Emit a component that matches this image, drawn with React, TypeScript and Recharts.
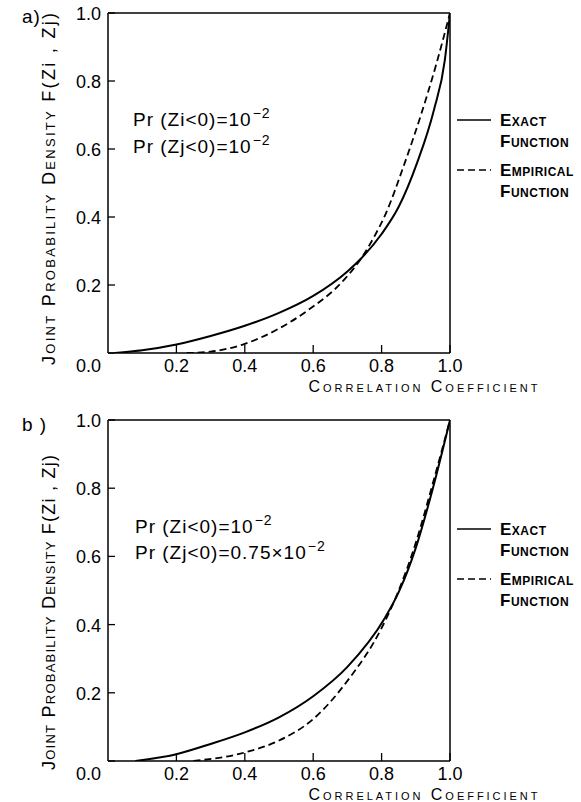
import React from "react";
import { LineChart, Line, XAxis, YAxis, Legend } from "recharts";

// Panel a) — exact and empirical joint density vs correlation coefficient
const exactA_r = [0.02, 0.1, 0.2, 0.3, 0.4, 0.5, 0.6, 0.7, 0.74, 0.8, 0.85, 0.904, 0.953, 0.985, 1.0];
const exactA_f = [0, 0.008, 0.025, 0.05, 0.08, 0.118, 0.168, 0.24, 0.278, 0.35, 0.43, 0.56, 0.715, 0.862, 1.0];
const empA_r = [0.23, 0.3, 0.4, 0.5, 0.585, 0.69, 0.74, 0.78, 0.81, 0.868, 0.915, 0.96, 1.0];
const empA_f = [0, 0.004, 0.027, 0.072, 0.126, 0.215, 0.278, 0.345, 0.405, 0.56, 0.7, 0.85, 1.0];

// Panel b)
const exactB_r = [0.08, 0.2, 0.3, 0.4, 0.5, 0.6, 0.7, 0.81, 0.85, 0.9, 0.95, 1.0];
const exactB_f = [0, 0.02, 0.05, 0.084, 0.128, 0.19, 0.276, 0.42, 0.495, 0.625, 0.8, 1.0];
const empB_r = [0.25, 0.4, 0.5, 0.6, 0.7, 0.8, 0.85, 0.9, 0.95, 1.0];
const empB_f = [0, 0.025, 0.06, 0.123, 0.235, 0.39, 0.5, 0.64, 0.815, 1.0];

const xTicks = [0.2, 0.4, 0.6, 0.8, 1.0];
const yTicks = [0, 0.2, 0.4, 0.6, 0.8, 1.0];

const seriesNames = ["Exact Function", "Empirical Function"];
const dashes = ["", "7 4"];

const FONT = "'Liberation Sans', Arial, sans-serif";

const zip = (r: number[], f: number[]) => r.map((v, i) => ({ r: v, f: f[i] }));

const XTick = (props: any) => {
  const { x, y, payload } = props;
  return (
    <g>
      <line x1={x} y1={y} x2={x} y2={y - 8} stroke="#000" strokeWidth={1.3} />
      <text x={x} y={y + 13} textAnchor="middle" dominantBaseline="central" fontSize={18} fontFamily={FONT} fill="#000">
        {Number(payload.value).toFixed(1)}
      </text>
    </g>
  );
};

const YTick = (props: any) => {
  const { x, y, payload } = props;
  const v = Number(payload.value);
  return (
    <g>
      <line x1={x} y1={y} x2={x + 7} y2={y} stroke="#000" strokeWidth={1.3} />
      <text x={x - 7} y={v === 0 ? y + 13 : y + 1} textAnchor="end" dominantBaseline="central" fontSize={18} fontFamily={FONT} fill="#000">
        {v.toFixed(1)}
      </text>
    </g>
  );
};

const renderLegend = () => (
  <div style={{ fontFamily: FONT }}>
    {seriesNames.map((name, i) => {
      const [w1, w2] = name.split(" ");
      return (
        <div key={name} style={{ display: "flex", alignItems: "flex-start", marginBottom: 8 }}>
          <svg width={36} height={21}>
            <line x1={1} y1={10} x2={35} y2={10} stroke="#000" strokeWidth={1.6} strokeDasharray={dashes[i] || undefined} />
          </svg>
          <div style={{ marginLeft: 8, fontSize: 17, fontWeight: "bold", fontVariant: "small-caps", lineHeight: "21px", letterSpacing: 0.5 }}>
            <div>{w1}</div>
            <div>{w2}</div>
          </div>
        </div>
      );
    })}
  </div>
);

type PanelProps = {
  top: number;
  height: number;
  margin: { top: number; right: number; bottom: number; left: number };
  exact: { r: number; f: number }[];
  empirical: { r: number; f: number }[];
  titleShift: number;
  titleLength: number;
  legendTop: number;
};

const Panel = ({ top, height, margin, exact, empirical, titleShift, titleLength, legendTop }: PanelProps) => {
  const axisLine = { stroke: "#000", strokeWidth: 1.5 };
  return (
    <div style={{ position: "absolute", left: 0, top }}>
      <LineChart width={581} height={height} margin={margin}>
        <XAxis
          dataKey="r"
          type="number"
          domain={[0, 1]}
          ticks={xTicks}
          height={30}
          tickSize={0}
          tickMargin={0}
          tickLine={false}
          axisLine={axisLine}
          tick={XTick}
          allowDataOverflow
          label={{
            content: (p: any) => {
              const vb = p.viewBox || {};
              return (
                <text
                  x={vb.x + vb.width - 27}
                  y={vb.y + 33}
                  textAnchor="middle"
                  dominantBaseline="central"
                  fontSize={16}
                  fontFamily={FONT}
                  style={{ fontVariant: "small-caps" }}
                  textLength={229}
                  lengthAdjust="spacing"
                  fill="#000"
                >
                  Correlation Coefficient
                </text>
              );
            },
          }}
        />
        <XAxis xAxisId="top" orientation="top" type="number" domain={[0, 1]} height={10} tick={false} tickLine={false} axisLine={axisLine} />
        <YAxis
          type="number"
          domain={[0, 1]}
          ticks={yTicks}
          width={40}
          tickSize={0}
          tickMargin={0}
          tickLine={false}
          axisLine={axisLine}
          tick={YTick}
          allowDataOverflow
          label={{
            content: (p: any) => {
              const vb = p.viewBox || {};
              const cx = 49;
              const cy = vb.y + vb.height / 2 + titleShift;
              return (
                <text
                  x={cx}
                  y={cy}
                  transform={`rotate(-90, ${cx}, ${cy})`}
                  textAnchor="middle"
                  dominantBaseline="central"
                  fontSize={18}
                  fontFamily={FONT}
                  textLength={titleLength}
                  lengthAdjust="spacing"
                  fill="#000"
                >
                  <tspan style={{ fontVariant: "small-caps" }}>Joint Probability Density</tspan>
                  <tspan> F(Zi , Zj)</tspan>
                </text>
              );
            },
          }}
        />
        <YAxis yAxisId="right" orientation="right" type="number" domain={[0, 1]} width={10} tick={false} tickLine={false} axisLine={axisLine} />
        <Legend
          layout="vertical"
          align="center"
          verticalAlign="middle"
          content={renderLegend}
          wrapperStyle={{ left: 456, top: legendTop, width: 125, height: "auto" }}
        />
        <Line
          data={exact}
          dataKey="f"
          type="monotone"
          name={seriesNames[0]}
          stroke="#000"
          strokeWidth={2}
          dot={false}
          isAnimationActive={false}
        />
        <Line
          data={empirical}
          dataKey="f"
          type="monotone"
          name={seriesNames[1]}
          stroke="#000"
          strokeWidth={1.8}
          strokeDasharray={dashes[1]}
          dot={false}
          isAnimationActive={false}
        />
      </LineChart>
    </div>
  );
};

const noteStyle: React.CSSProperties = {
  position: "absolute",
  fontFamily: FONT,
  fontSize: 19,
  lineHeight: "22px",
  letterSpacing: 1,
  whiteSpace: "nowrap",
  color: "#000",
};

const Sup = ({ children }: { children: React.ReactNode }) => (
  <span style={{ fontSize: 14, position: "relative", top: -8, marginLeft: 1 }}>{children}</span>
);

export default function App() {
  return (
    <div style={{ position: "absolute", left: 0, top: 0, width: 581, height: 802, background: "#fff" }}>
      <Panel
        top={0}
        height={400}
        margin={{ top: 3, right: 121, bottom: 17, left: 68 }}
        exact={zip(exactA_r, exactA_f)}
        empirical={zip(empA_r, empA_f)}
        titleShift={6}
        titleLength={352}
        legendTop={110}
      />
      <Panel
        top={400}
        height={402}
        margin={{ top: 10, right: 121, bottom: 11, left: 68 }}
        exact={zip(exactB_r, exactB_f)}
        empirical={zip(empB_r, empB_f)}
        titleShift={22}
        titleLength={315}
        legendTop={119}
      />

      <div style={{ ...noteStyle, left: 22, top: 6 }}>a)</div>
      <div style={{ ...noteStyle, left: 22, top: 414 }}>b )</div>

      <div style={{ ...noteStyle, left: 133, top: 109 }}>
        Pr (Zi&lt;0)=10<Sup>−2</Sup>
      </div>
      <div style={{ ...noteStyle, left: 133, top: 136 }}>
        Pr (Zj&lt;0)=10<Sup>−2</Sup>
      </div>

      <div style={{ ...noteStyle, left: 135, top: 516 }}>
        Pr (Zi&lt;0)=10<Sup>−2</Sup>
      </div>
      <div style={{ ...noteStyle, left: 135, top: 542 }}>
        Pr (Zj&lt;0)=0.75×10<Sup>−2</Sup>
      </div>
    </div>
  );
}
